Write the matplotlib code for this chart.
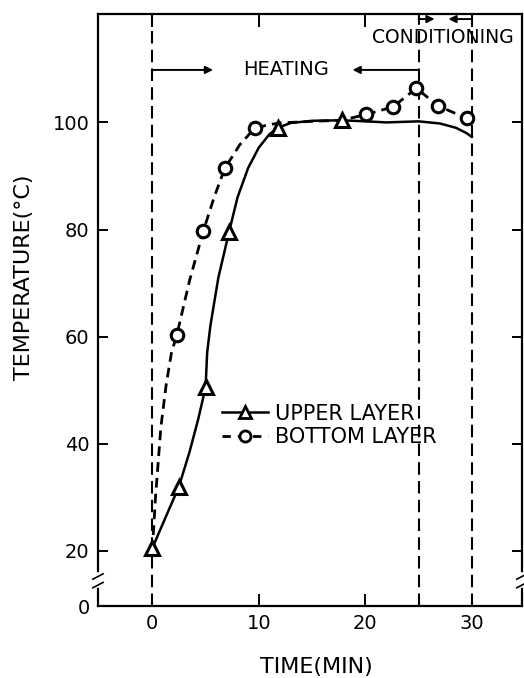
import matplotlib
matplotlib.use("Agg")
import matplotlib.pyplot as plt

# marker points (time in min, temperature in degC)
upper_time = [0, 2.5, 5, 7.2, 11.8, 17.8]
upper_temp = [20.5, 32, 50.5, 79.5, 99, 100.4]
bottom_time = [2.3, 4.8, 6.8, 9.6, 20.1, 22.6, 24.8, 26.8, 29.5]
bottom_temp = [60.3, 79.8, 91.4, 98.9, 101.5, 102.9, 106.4, 103.1, 100.8]

# hand-drawn curves
upper_curve_time = [0, 1.3, 2.5, 3.5, 4.3, 5, 5.15, 5.45, 6.2, 7.2, 8, 9, 10, 11, 11.8,
                    13, 15, 17.8, 20, 22, 25, 27, 28.5, 29.5, 30]
upper_curve_temp = [20.5, 26.5, 32, 38.5, 44.5, 50.5, 57, 62, 71, 79.5, 86, 91.5, 95.3,
                    97.8, 99, 99.9, 100.3, 100.4, 100.2, 100, 100.2, 99.8, 99, 98, 97.3]
bottom_curve_time = [0, 0.3, 0.8, 1.3, 1.8, 2.3, 3.5, 4.8, 5.8, 6.8, 8.2, 9.6, 11, 12,
                     15, 17.8, 20.1, 22.6, 24.8, 26.8, 29.5]
bottom_curve_temp = [20, 30, 43, 51, 57, 60.3, 70.5, 79.8, 86, 91.4, 95.8, 98.9, 99.6,
                     99.9, 100.2, 100.4, 101.5, 102.9, 106.4, 103.1, 100.8]

phase_bounds = [0, 25, 30]
x_ticks = [0, 10, 20, 30]
y_ticks = [20, 40, 60, 80, 100]
y_floor = 9.67   # where the broken axis shows "0"

plt.rcParams['font.family'] = ['DejaVu Sans']

fig = plt.figure(figsize=(5.24, 6.78), dpi=100)
ax = fig.add_axes([0.187, 0.106, 0.809, 0.873])

for xb in phase_bounds:
    ax.axvline(xb, color='k', lw=1.5, ls=(0, (6, 3)), zorder=1)

ax.plot(upper_curve_time, upper_curve_temp, color='k', lw=1.8, zorder=2)
ax.plot(bottom_curve_time, bottom_curve_temp, color='k', lw=2.0, ls=(0, (3.5, 2.2)), zorder=2)
ax.plot(upper_time, upper_temp, ls='none', marker='^', ms=10, mfc='white', mec='k',
        mew=2.2, zorder=3)
ax.plot(bottom_time, bottom_temp, ls='none', marker='o', ms=9, mfc='white', mec='k',
        mew=2.2, zorder=3)

# legend handles
h_up, = ax.plot([], [], color='k', lw=1.8, marker='^', ms=9, mfc='white', mec='k', mew=2)
h_bot, = ax.plot([], [], color='k', lw=2.0, ls=(0, (3, 2.5)), marker='o', ms=8,
                 mfc='white', mec='k', mew=2)
ax.legend([h_up, h_bot], ['UPPER LAYER', 'BOTTOM LAYER'], loc='upper left',
          bbox_to_anchor=(0.292, 0.342), frameon=False, fontsize=15, borderpad=0,
          borderaxespad=0, handlelength=2.2, handletextpad=0.35, labelspacing=0.15)

# phase annotations
arrow = dict(arrowstyle='-|>', color='k', lw=1.4, mutation_scale=11, shrinkA=0, shrinkB=0)
ax.annotate('', xy=(5.7, 109.8), xytext=(0, 109.8), arrowprops=arrow)
ax.annotate('', xy=(18.8, 109.8), xytext=(25, 109.8), arrowprops=arrow)
ax.text(12.55, 109.8, 'HEATING', ha='center', va='center', fontsize=14)
ax.annotate('', xy=(26.5, 119.3), xytext=(25, 119.3), arrowprops=arrow)
ax.annotate('', xy=(27.8, 119.3), xytext=(30, 119.3), arrowprops=arrow)
ax.text(27.3, 115.8, 'CONDITIONING', ha='center', va='center', fontsize=13.5)

ax.set_xlim(-5.1, 34.7)
ax.set_ylim(y_floor, 120.2)
ax.set_xticks(x_ticks)
ax.set_yticks([y_floor] + y_ticks)
ax.set_yticklabels(['0'] + [str(v) for v in y_ticks])
ax.tick_params(axis='both', which='both', direction='in', top=True, right=True,
               labelsize=14, width=1.4, colors='k')
ax.tick_params(axis='x', length=9, pad=6)
ax.tick_params(axis='y', length=7, pad=6)
for sp in ax.spines.values():
    sp.set_linewidth(1.6)

# axis break marks
ytr = ax.get_yaxis_transform()
for xa in (0.0, 1.0):
    ax.plot([xa, xa], [13.6, 15.4], color='white', lw=4, transform=ytr, clip_on=False,
            zorder=5)
    for yb in (13.5, 15.1):
        ax.plot([xa - 0.012, xa + 0.012], [yb - 0.4, yb + 0.6], color='k', lw=1.2,
                transform=ytr, clip_on=False, zorder=6)

ax.set_xlabel('TIME(MIN)', fontsize=16)
ax.xaxis.set_label_coords(0.514, -0.086)
ax.set_ylabel('TEMPERATURE(°C)', fontsize=16)
ax.yaxis.set_label_coords(-0.15, 0.556)

fig.savefig('out.png', dpi=100)
